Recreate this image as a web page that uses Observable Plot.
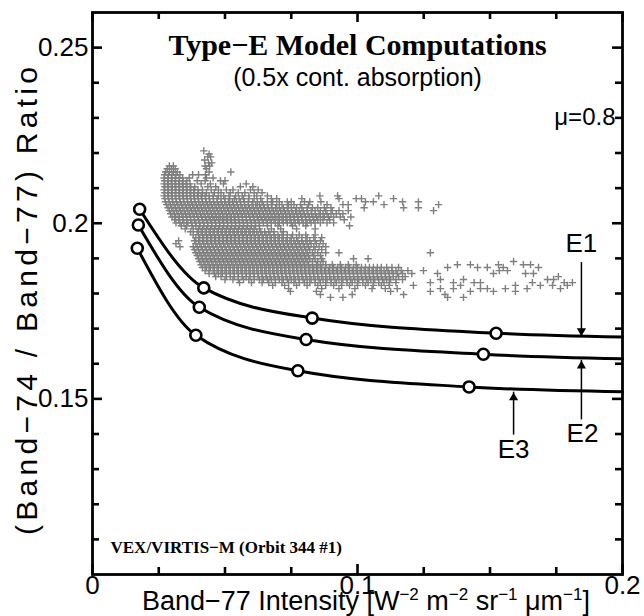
<!DOCTYPE html>
<html><head><meta charset="utf-8">
<script src="https://cdn.jsdelivr.net/npm/d3@7"></script>
<script src="https://cdn.jsdelivr.net/npm/@observablehq/plot@0.6"></script>
<style>body{margin:0;background:#fff;} svg{display:block;}</style>
</head><body><div id="chart"></div>
<script>
// ---------- axes ----------
const xDomain = [0, 0.2];
const yDomain = [0.1, 0.26];
const xMajor = [0, 0.1, 0.2];
const xMinor = [0.025, 0.05, 0.075, 0.125, 0.15, 0.175];
const yMajor = [0.15, 0.2, 0.25];
const yMinor = [0.11, 0.12, 0.13, 0.14, 0.16, 0.17, 0.18, 0.19, 0.21, 0.22, 0.23, 0.24];

// ---------- model curves (circles = computed points) ----------
const curveNames = ["E1", "E2", "E3"];
const e1X = [0.0178, 0.0420, 0.0829, 0.1523];
const e1Y = [0.2040, 0.1816, 0.1730, 0.1687];
const e2X = [0.0173, 0.0403, 0.0806, 0.1475];
const e2Y = [0.1995, 0.1761, 0.1669, 0.1627];
const e3X = [0.0169, 0.0390, 0.0775, 0.1421];
const e3Y = [0.1929, 0.1681, 0.1580, 0.1534];
const curveEndX = 0.2;
const curveEndY = [0.1676, 0.1614, 0.1520];

// ---------- annotation arrows ----------
const arrowX = [0.1845, 0.1845, 0.1589];
const arrowFrom = [0.1888, 0.1440, 0.1397];
const arrowTo = [0.1678, 0.1610, 0.1519];
const labelX = [0.1845, 0.1849, 0.1589];
const labelY = [0.1942, 0.1400, 0.1355];

// ---------- VIRTIS-M observations: rows of ratio value, band-77 intensities (x 1e-3) ----------
const scatterRowY = [0.2206,0.2197,0.2189,0.2180,0.2172,0.2163,0.2155,0.2146,0.2138,0.2129,0.2121,0.2112,0.2104,0.2095,0.2087,0.2078,0.2070,0.2061,0.2053,0.2044,0.2036,0.2027,0.2018,0.2010,0.2001,0.1993,0.1984,0.1976,0.1967,0.1959,0.1950,0.1942,0.1933,0.1925,0.1916,0.1908,0.1899,0.1891,0.1882,0.1874,0.1865,0.1857,0.1848,0.1840,0.1831,0.1823,0.1814,0.1806,0.1797,0.1789];
const scatterRowX = [
 [42.0],
 [44.0],
 [43.5,44.6],
 [42.3],
 [43.8,45.0],
 [29.0,30.5,42.5,44.2],
 [28.2,29.8,31.2,43.0],
 [27.6,29.0,30.5,32.0,44.0,52.2],
 [27.2,28.6,30.0,31.5,33.0,37.8,40.0,42.6],
 [27.0,28.4,29.8,31.2,32.7,34.0,36.5,43.0,45.5],
 [27.2,28.6,30.0,31.4,32.8,34.2,35.6,39.5,42.5,48.3,50.0],
 [27.0,28.3,29.7,31.1,32.5,33.9,35.3,36.8,41.0,44.5,49.4,58.0],
 [27.3,28.7,30.1,31.5,32.9,34.3,35.7,37.1,38.6,43.5,46.5,55.8,60.5],
 [27.0,28.4,29.8,31.2,32.6,34.0,35.4,36.8,38.2,39.8,41.5,44.8,47.5,50.5,53.0,59.6,62.5],
 [27.3,28.7,30.1,31.5,32.9,34.3,35.7,37.1,38.5,40.0,41.5,43.0,46.0,48.5,52.0,55.0,57.5,61.0,64.0],
 [27.0,28.4,29.8,31.2,32.6,34.0,35.4,36.8,38.2,39.6,41.0,42.5,44.0,45.5,47.5,49.5,51.5,54.0,56.5,59.0,62.0,66.0,85.8,92.5,108.0],
 [27.3,28.7,30.1,31.5,32.9,34.3,35.7,37.1,38.5,39.9,41.3,42.7,44.1,45.6,47.0,48.5,50.0,51.8,53.5,55.3,57.0,59.0,61.0,63.5,67.5,69.5,79.0,93.0,99.5,101.5,113.6],
 [27.5,28.9,30.3,31.7,33.1,34.5,35.9,37.3,38.7,40.1,41.5,42.9,44.3,45.7,47.1,48.5,49.9,51.3,52.8,54.3,55.8,57.3,58.8,60.5,62.2,64.0,66.0,68.0,70.5,73.5,75.0,80.0,82.0,86.2,103.0,106.0,117.0,123.0],
 [28.0,29.4,30.8,32.2,33.6,35.0,36.4,37.8,39.2,40.6,42.0,43.4,44.8,46.2,47.6,49.0,50.4,51.8,53.2,54.6,56.0,57.4,58.8,60.2,61.6,63.0,64.5,66.0,67.5,69.5,71.5,74.0,76.0,78.5,81.5,88.5,94.5,96.5,110.0,130.6],
 [28.5,29.9,31.3,32.7,34.1,35.5,36.9,38.3,39.7,41.1,42.5,43.9,45.3,46.7,48.1,49.5,50.9,52.3,53.7,55.1,56.5,57.9,59.3,60.7,62.1,63.5,64.9,66.3,67.7,69.1,70.5,72.0,73.5,75.0,77.0,79.0,81.0,83.0,85.0,87.5,90.0,102.5,117.4,123.0],
 [29.0,30.4,31.8,33.2,34.6,36.0,37.4,38.8,40.2,41.6,43.0,44.4,45.8,47.2,48.6,50.0,51.4,52.8,54.2,55.6,57.0,58.4,59.8,61.2,62.6,64.0,65.4,66.8,68.2,69.6,71.0,72.4,73.8,75.2,76.6,78.0,79.5,81.0,82.5,84.0,86.0,88.0,90.5,93.0,96.5,128.7],
 [29.5,30.9,32.3,33.7,35.1,36.5,37.9,39.3,40.7,42.1,43.5,44.9,46.3,47.7,49.1,50.5,51.9,53.3,54.7,56.1,57.5,58.9,60.3,61.7,63.1,64.5,65.9,67.3,68.7,70.1,71.5,72.9,74.3,75.7,77.1,78.5,79.9,81.3,82.7,84.1,85.5,87.0,88.5,90.0,92.0,94.5],
 [30.0,31.4,32.8,34.2,35.6,37.0,38.4,39.8,41.2,42.6,44.0,45.4,46.8,48.2,49.6,51.0,52.4,53.8,55.2,56.6,58.0,59.4,60.8,62.2,63.6,65.0,66.4,67.8,69.2,70.6,72.0,73.4,74.8,76.2,77.6,79.0,80.4,81.8,83.2,84.6,86.0,87.5,89.0,91.0,93.5,97.5],
 [31.0,32.5,34.0,35.5,37.0,38.5,40.0,41.5,43.0,44.5,46.0,47.5,49.0,50.5,52.0,53.5,55.0,56.5,58.0,59.5,61.0,62.5,64.0,65.5,67.0,68.5,70.0,71.5,73.0,74.5,76.0,77.5,79.0,80.5,82.0,83.5,85.0,87.0,89.5,95.0],
 [31.5,33.0,34.5,36.0,37.5,39.0,40.5,42.0,43.5,45.0,46.5,48.0,49.5,51.0,52.5,54.0,55.5,57.0,58.5,60.0,61.5,63.0,64.5,66.0,67.5,69.0,70.5,72.0,73.5,75.0,76.5,78.0,79.5,81.0,82.5,84.0,86.0,88.5,91.0],
 [33.5,35.5,37.5,39.0,40.5,42.0,43.5,45.0,46.5,48.0,49.5,51.0,52.5,54.0,55.5,57.0,58.5,60.0,61.5,63.0,66.0,70.0,75.5,80.5,97.0],
 [35.0,38.0,40.0,41.5,43.0,44.5,46.0,47.5,49.0,50.5,52.0,53.5,55.0,56.5,58.0,59.5,61.0,63.0,67.5,71.0,77.0,84.0],
 [37.0,39.5,41.0,42.5,44.0,45.5,47.0,48.5,50.0,51.5,53.0,54.5,56.0,57.5,59.0,60.5,62.0,63.5,65.0,66.5,68.5,72.0],
 [38.0,40.0,41.5,43.0,44.5,46.0,47.5,49.0,50.5,52.0,53.5,55.0,56.5,58.0,59.5,61.0,62.5,64.0,65.5,67.0,68.5,70.0,71.5,73.5,75.5,78.0,80.5,84.0],
 [39.0,40.5,42.0,43.5,45.0,46.5,48.0,49.5,51.0,52.5,54.0,55.5,57.0,58.5,60.0,61.5,63.0,64.5,66.0,67.5,69.0,70.5,72.0,73.5,75.0,77.0,79.0,81.0,83.5,86.5],
 [32.5,38.5,40.0,41.5,43.0,44.5,46.0,47.5,49.0,50.5,52.0,53.5,55.0,56.5,58.0,59.5,61.0,62.5,64.0,65.5,67.0,68.5,70.0,71.5,73.0,74.5,76.0,77.5,79.0,80.5,82.0,84.0,86.0],
 [31.5,39.0,40.5,42.0,43.5,45.0,46.5,48.0,49.5,51.0,52.5,54.0,55.5,57.0,58.5,60.0,61.5,63.0,64.5,66.0,67.5,69.0,70.5,72.0,73.5,75.0,76.5,78.0,79.5,81.0,82.5,84.5,87.0],
 [33.0,38.0,39.5,41.0,42.5,44.0,45.5,47.0,48.5,50.0,51.5,53.0,54.5,56.0,57.5,59.0,60.5,62.0,63.5,65.0,66.5,68.0,69.5,71.0,72.5,74.0,75.5,77.0,78.5,80.0,81.5,83.5,85.5,88.0],
 [38.5,40.0,41.5,43.0,44.5,46.0,47.5,49.0,50.5,52.0,53.5,55.0,56.5,58.0,59.5,61.0,62.5,64.0,65.5,67.0,68.5,70.0,71.5,73.0,74.5,76.0,77.5,79.0,80.5,82.0,84.0,86.5],
 [39.0,40.5,42.0,43.5,45.0,46.5,48.0,49.5,51.0,52.5,54.0,55.5,57.0,58.5,60.0,61.5,63.0,64.5,66.0,67.5,69.0,70.5,72.0,73.5,75.0,76.5,78.0,79.5,81.0,83.0,85.0,88.0,93.0,127.5],
 [39.5,41.0,42.5,44.0,45.5,47.0,48.5,50.0,51.5,53.0,54.5,56.0,57.5,59.0,60.5,62.0,63.5,65.0,66.5,68.0,69.5,71.0,72.5,74.0,75.5,77.0,78.5,80.0,81.5,83.5,86.0],
 [40.0,41.5,43.0,44.5,46.0,47.5,49.0,50.5,52.0,53.5,55.0,56.5,58.0,59.5,61.0,62.5,64.0,65.5,67.0,68.5,70.0,71.5,73.0,74.5,76.0,77.5,79.0,80.5,82.0,84.0,86.5,98.5,104.0],
 [40.5,42.0,43.5,45.0,46.5,48.0,49.5,51.0,52.5,54.0,55.5,57.0,58.5,60.0,61.5,63.0,64.5,66.0,67.5,69.0,70.5,72.0,73.5,75.0,76.5,78.0,79.5,81.0,83.0,85.0,87.0,158.9],
 [41.0,42.5,44.0,45.5,47.0,48.5,50.0,51.5,53.0,54.5,56.0,57.5,59.0,60.5,62.0,63.5,65.0,66.5,68.0,69.5,71.0,72.5,74.0,75.5,77.0,78.5,80.0,81.5,83.0,84.5,86.0,88.0,90.5,93.5,96.5,99.5,137.7,142.6,153.2,162.6,165.3],
 [41.5,43.0,44.5,46.0,47.5,49.0,50.5,52.0,53.5,55.0,56.5,58.0,59.5,61.0,62.5,64.0,65.5,67.0,68.5,70.0,71.5,73.0,74.5,76.0,77.5,79.0,80.5,82.0,83.5,85.0,86.5,88.0,89.5,91.0,92.5,94.0,95.5,97.0,98.5,100.0,101.5,103.0,104.5,106.0,107.5,109.0,111.0,113.0,115.5,134.0,145.3,149.0,155.0,168.3],
 [42.5,44.0,45.5,47.0,48.5,50.0,51.5,53.0,54.5,56.0,57.5,59.0,60.5,62.0,63.5,65.0,66.5,68.0,69.5,71.0,72.5,74.0,75.5,77.0,78.5,80.0,81.5,83.0,84.5,86.0,87.5,89.0,90.5,92.0,93.5,95.0,96.5,98.0,99.5,101.0,102.5,104.0,105.5,107.0,108.5,110.0,111.5,113.0,114.5,116.5,119.0,124.9,153.5,156.6],
 [44.0,46.0,47.5,49.0,50.5,52.0,53.5,55.0,56.5,58.0,59.5,61.0,62.5,64.0,65.5,67.0,68.5,70.0,71.5,73.0,74.5,76.0,77.5,79.0,80.5,82.0,83.5,85.0,86.5,88.0,89.5,91.0,92.5,94.0,95.5,97.0,98.5,100.0,101.5,103.0,104.5,106.0,107.5,109.0,110.5,112.0,113.5,115.0,117.0,120.5,130.2,151.3,163.4,166.4],
 [46.5,48.5,50.5,52.0,53.5,55.0,56.5,58.0,59.5,61.0,62.5,64.0,65.5,67.0,68.5,70.0,71.5,73.0,74.5,76.0,77.5,79.0,80.5,82.0,83.5,85.0,86.5,88.0,89.5,91.0,92.5,94.0,95.5,97.0,98.5,100.0,101.5,103.0,104.5,106.0,107.5,109.0,110.5,112.0,113.5,115.5,118.0,175.8],
 [50.0,53.0,55.0,57.0,59.0,61.0,63.0,64.5,66.0,67.5,69.0,70.5,72.0,73.5,75.0,76.5,78.0,79.5,81.0,82.5,84.0,85.5,87.0,88.5,90.0,91.5,93.0,94.5,96.0,97.5,99.0,100.5,102.0,103.5,105.0,106.5,108.0,109.5,111.0,112.5,114.5,117.0,131.3,140.0,171.7,174.0],
 [55.5,60.0,64.0,66.5,69.0,71.5,74.0,76.0,78.0,80.0,82.0,84.0,86.0,88.0,90.0,92.0,94.0,96.0,98.0,100.0,102.0,104.0,106.0,108.0,110.0,112.0,114.5,127.5,136.2,144.0,146.4,166.0,178.0,181.1],
 [68.0,72.5,77.0,81.0,85.0,88.0,91.0,94.0,97.0,100.0,103.0,106.0,109.0,112.0,121.1,138.9,159.6,169.0,173.6,179.2],
 [74.0,86.5,93.0,99.0,105.5,110.5,115.0,131.3,136.2,146.4,149.0,155.8,164.0,176.6],
 [74.7,84.5,112.5,127.5,142.6,151.3,159.6],
 [86.0,98.0,117.4,133.0],
 [89.8,94.5,134.0,140.0]
];

// ---------- build tables ----------
const scatter = [];
scatterRowY.forEach((y, i) => scatterRowX[i].forEach(t => scatter.push({x: t / 1000, y})));

const circXs = [e1X, e2X, e3X], circYs = [e1Y, e2Y, e3Y];
const circles = [], curvePts = [];
curveNames.forEach((name, k) => {
  circXs[k].forEach((x, i) => {
    circles.push({name, x, y: circYs[k][i]});
    curvePts.push({name, x, y: circYs[k][i]});
  });
  curvePts.push({name, x: curveEndX, y: curveEndY[k]});
});
const arrows = curveNames.map((name, k) => ({name, x: arrowX[k], from: arrowFrom[k], to: arrowTo[k], down: arrowTo[k] < arrowFrom[k]}));
const labels = curveNames.map((name, k) => ({name, x: labelX[k], y: labelY[k]}));

const W = 644, H = 616, mL = 92, mR = 22, mT = 12, mB = 42;
// inward tick marks: pixel length converted to data units of each scale
const xPerPx = (xDomain[1] - xDomain[0]) / (W - mL - mR);
const yPerPx = (yDomain[1] - yDomain[0]) / (H - mT - mB);
const tickLen = {minor: 7, major: 10};
const xTickRows = [], yTickRows = [];
[[xMinor, tickLen.minor], [xMajor, tickLen.major]].forEach(([ticks, n]) => ticks.forEach(v => {
  xTickRows.push({x: v, y1: yDomain[0], y2: yDomain[0] + n * yPerPx});
  xTickRows.push({x: v, y1: yDomain[1], y2: yDomain[1] - n * yPerPx});
}));
[[yMinor, tickLen.minor], [yMajor, tickLen.major]].forEach(([ticks, n]) => ticks.forEach(v => {
  yTickRows.push({y: v, x1: xDomain[0], x2: xDomain[0] + n * xPerPx});
  yTickRows.push({y: v, x1: xDomain[1], x2: xDomain[1] - n * xPerPx});
}));

const svg = Plot.plot({
  width: W, height: H,
  marginLeft: mL, marginRight: mR, marginTop: mT, marginBottom: mB,
  x: {domain: xDomain},
  y: {domain: yDomain},
  style: {fontFamily: "Liberation Sans", background: "white", color: "black"},
  marks: [
    Plot.dot(scatter, {x: "x", y: "y", symbol: "plus", r: 2.5, stroke: "#7f7f7f", strokeWidth: 1.4}),
    Plot.line(curvePts, {x: "x", y: "y", z: "name", curve: "monotone-x", stroke: "black", strokeWidth: 3}),
    Plot.dot(circles, {x: "x", y: "y", r: 5.5, fill: "white", stroke: "black", strokeWidth: 2.6}),
    Plot.ruleX(arrows, {x: "x", y1: "from", y2: "to", stroke: "black", strokeWidth: 1.5}),
    Plot.dot(arrows.filter(d => d.down), {x: "x", y: "to", symbol: "triangle", r: 3.4, rotate: 180, fill: "black", stroke: null, dy: -5.5}),
    Plot.dot(arrows.filter(d => !d.down), {x: "x", y: "to", symbol: "triangle", r: 3.4, fill: "black", stroke: null, dy: 5.5}),
    Plot.text(labels, {x: "x", y: "y", text: "name", fontSize: 26, fill: "black"}),
    Plot.text(["Type−E Model Computations"], {frameAnchor: "top", lineAnchor: "middle", dy: 33, fontFamily: "Liberation Serif", fontWeight: "bold", fontSize: 30}),
    Plot.text(["(0.5x cont. absorption)"], {frameAnchor: "top", lineAnchor: "middle", dy: 65, fontSize: 25}),
    Plot.text(["μ=0.8"], {frameAnchor: "top-right", lineAnchor: "middle", textAnchor: "end", dx: -7, dy: 105, fontSize: 24}),
    Plot.text(["VEX/VIRTIS−M (Orbit 344 #1)"], {frameAnchor: "bottom-left", lineAnchor: "middle", textAnchor: "start", dx: 18, dy: -27, fontFamily: "Liberation Serif", fontWeight: "bold", fontSize: 17}),
    Plot.ruleX(xTickRows, {x: "x", y1: "y1", y2: "y2", stroke: "black", strokeWidth: 2.6}),
    Plot.ruleY(yTickRows, {y: "y", x1: "x1", x2: "x2", stroke: "black", strokeWidth: 2.6}),
    Plot.axisX(xMajor, {anchor: "bottom", tickSize: 0, tickPadding: 1, tickFormat: d => String(d), label: null, fontSize: 26}),
    Plot.axisY(yMajor, {anchor: "left", tickSize: 0, tickPadding: 4, tickFormat: d => String(d), label: null, fontSize: 26}),
    Plot.frame({stroke: "black", strokeWidth: 2.8})
  ]
});

const s = d3.select(svg);
s.append("text")
  .attr("transform", `translate(26,301) rotate(-90)`)
  .attr("text-anchor", "middle").attr("dy", "0.35em")
  .attr("font-family", "Liberation Sans").attr("font-size", 30).attr("fill", "black")
  .attr("textLength", 468).attr("lengthAdjust", "spacing")
  .text("(Band−74 / Band−77) Ratio");
const xl = s.append("text")
  .attr("x", 366).attr("y", 610).attr("text-anchor", "middle")
  .attr("font-family", "Liberation Sans").attr("font-size", 27).attr("fill", "black");
const xlParts = [["Band−77 Intensity [W", 0], ["−2", 1], [" m", 0], ["−2", 1], [" sr", 0], ["−1", 1], [" μm", 0], ["−1", 1], ["]", 0]];
xlParts.forEach(([t, sup], i) => {
  const prevSup = i > 0 ? xlParts[i - 1][1] : 0;
  const dy = sup && !prevSup ? -10 : (!sup && prevSup ? 10 : 0);
  xl.append("tspan").attr("dy", dy).attr("font-size", sup ? 17 : 27).text(t);
});
document.getElementById("chart").appendChild(svg);
</script>
</body></html>
